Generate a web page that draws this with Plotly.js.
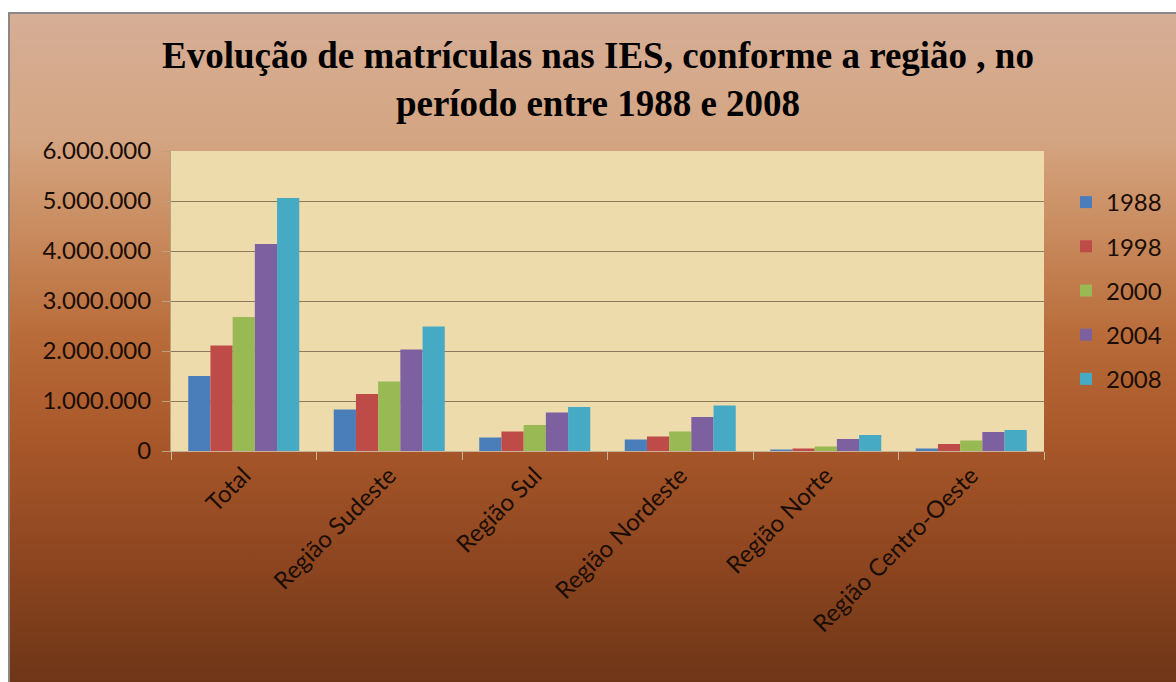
<!DOCTYPE html>
<html>
<head>
<meta charset="utf-8">
<script src="https://cdn.plot.ly/plotly-3.0.1.min.js"></script>
<style>
  html, body { margin: 0; padding: 0; background: #ffffff; width: 1176px; height: 682px; overflow: hidden; }
  #bg {
    position: absolute; left: 8px; top: 12px; width: 1180px; height: 680px;
    border-left: 2px solid #8c8886; border-top: 2px solid #8c8886;
    background: linear-gradient(to bottom, #d6ae96 0%, #d4a582 18%, #c98b5e 32%, #b86a38 48%, #a9582a 62%, #8e4620 80%, #6b3416 100%);
  }
  #chart { position: absolute; left: 0; top: 0; width: 1176px; height: 682px; }
</style>
</head>
<body>
<div id="bg"></div>
<div id="chart"></div>
<script>
const categories = ["Total", "Região Sudeste", "Região Sul", "Região Nordeste", "Região Norte", "Região Centro-Oeste"];
const seriesNames = ["1988", "1998", "2000", "2004", "2008"];
const v1988 = [1500000, 830000, 270000, 230000, 30000, 50000];
const v1998 = [2110000, 1140000, 390000, 290000, 50000, 140000];
const v2000 = [2680000, 1390000, 520000, 390000, 90000, 210000];
const v2004 = [4140000, 2030000, 770000, 680000, 240000, 380000];
const v2008 = [5060000, 2490000, 880000, 910000, 320000, 420000];
const yTicks = [0, 1000000, 2000000, 3000000, 4000000, 5000000, 6000000];

const values = [v1988, v1998, v2000, v2004, v2008];
const colors = ["#4a7ebb", "#be4b48", "#98b954", "#7d60a0", "#46aac5"];

const traces = seriesNames.map((name, i) => ({
  type: "bar",
  name: name,
  x: categories,
  y: values[i],
  marker: { color: colors[i], line: { width: 0 } },
  legendgroup: "g" + i,
  hoverinfo: "x+y+name"
}));

const tickFont = { family: "Lato, Open Sans, sans-serif", size: 24, color: "#1a0d05" };

const layout = {
  width: 1176,
  height: 682,
  paper_bgcolor: "rgba(0,0,0,0)",
  plot_bgcolor: "#eedbab",
  separators: ",.",
  margin: { l: 171, r: 132, t: 151, b: 231, pad: 0 },
  barmode: "group",
  bargap: 0.237,
  bargroupgap: 0,
  title: {
    text: "Evolução de matrículas nas IES, conforme a região , no<br>período entre 1988 e 2008",
    font: { family: "Liberation Serif, Times New Roman, serif", size: 37, color: "#000000", weight: "bold" },
    x: 598 / 1176, xanchor: "center", xref: "container",
    y: 1 - 68 / 682, yanchor: "middle", yref: "container"
  },
  xaxis: {
    type: "category",
    tickangle: -45,
    tickfont: tickFont,
    showline: true, linecolor: "#c9b29a", linewidth: 1,
    ticks: "outside", tickson: "boundaries", ticklen: 8, tickcolor: "#c9b29a",
    showgrid: false,
    fixedrange: true
  },
  yaxis: {
    range: [0, 6000000],
    tickvals: yTicks,
    tickformat: ",d",
    tickfont: tickFont,
    ticklabelstandoff: 6,
    showline: true, linecolor: "#b8a27e", linewidth: 1,
    ticks: "outside", ticklen: 8, tickcolor: "#b8a27e",
    showgrid: true, gridcolor: "#8c7a5c", gridwidth: 1,
    zeroline: false,
    fixedrange: true
  },
  legend: {
    x: 1066 / 1176, xref: "container", xanchor: "left",
    y: 1 - 180 / 682, yref: "container", yanchor: "top",
    font: tickFont,
    bgcolor: "rgba(0,0,0,0)",
    traceorder: "grouped",
    tracegroupgap: 10,
    itemwidth: 30
  },
  showlegend: true
};

Plotly.newPlot("chart", traces, layout, { displayModeBar: false, staticPlot: true });
</script>
</body>
</html>
